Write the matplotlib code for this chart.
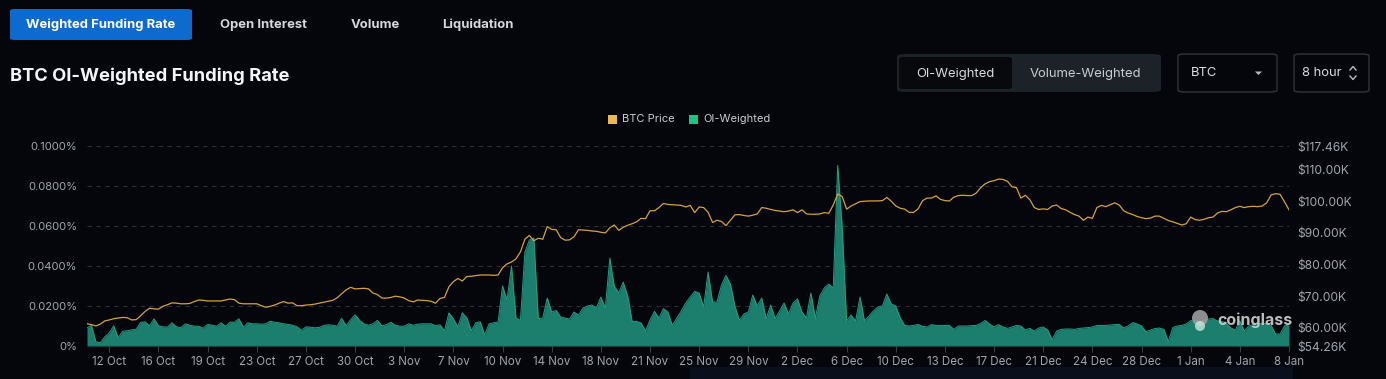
import matplotlib
matplotlib.use("Agg")
import matplotlib.pyplot as plt
from matplotlib.patches import FancyBboxPatch, Rectangle, Polygon, Ellipse
from matplotlib.lines import Line2D

# ---------------- data ----------------
funding_rate = [
    0.0091, 0.0103, 0.0021, 0.0016, 0.0046, 0.0066, 0.0101, 0.0041, 0.0074, 0.0076,
    0.0081, 0.0084, 0.0118, 0.0121, 0.0101, 0.0136, 0.0101, 0.0096, 0.0094, 0.0116,
    0.0096, 0.0091, 0.0111, 0.0104, 0.0099, 0.0099, 0.0089, 0.0108, 0.0104, 0.0099,
    0.0116, 0.0099, 0.0119, 0.0119, 0.0136, 0.0094, 0.0116, 0.0111, 0.0111, 0.0109,
    0.0111, 0.0124, 0.0119, 0.0116, 0.0111, 0.0108, 0.0104, 0.0096, 0.0078, 0.0096,
    0.0094, 0.0091, 0.0093, 0.0103, 0.0106, 0.0104, 0.0099, 0.0139, 0.0101, 0.0131,
    0.0156, 0.0128, 0.0111, 0.0104, 0.0111, 0.0128, 0.0101, 0.0106, 0.0119, 0.0104,
    0.0099, 0.0099, 0.0111, 0.0104, 0.0109, 0.0111, 0.0111, 0.0111, 0.0101, 0.0106,
    0.0076, 0.0166, 0.0136, 0.0096, 0.0166, 0.0141, 0.0076, 0.0116, 0.0121, 0.0056,
    0.0111, 0.0116,
    0.0120, 0.0300, 0.0230, 0.0400, 0.0140, 0.0128, 0.0470, 0.0530, 0.0540, 0.0137,
    0.0140, 0.0240, 0.0170, 0.0178, 0.0145, 0.0140, 0.0135, 0.0170, 0.0155, 0.0190,
    0.0200, 0.0205, 0.0190, 0.0245, 0.0190, 0.0440, 0.0300, 0.0265, 0.0320, 0.0250,
    0.0123, 0.0123, 0.0115, 0.0075, 0.0130, 0.0173, 0.0140, 0.0187, 0.0170, 0.0103,
    0.0140, 0.0175, 0.0215, 0.0245, 0.0273, 0.0265, 0.0195, 0.0370, 0.0220, 0.0220,
    0.0305, 0.0353, 0.0310, 0.0200, 0.0128, 0.0160, 0.0170, 0.0255, 0.0200, 0.0240,
    0.0137, 0.0205, 0.0137, 0.0175, 0.0215, 0.0160, 0.0215, 0.0235, 0.0170, 0.0140,
    0.0265, 0.0140, 0.0250, 0.0290, 0.0310, 0.0290, 0.0903, 0.0600, 0.0125, 0.0155,
    0.0125, 0.0245, 0.0125, 0.0150, 0.0175, 0.0195, 0.0200, 0.0260, 0.0210, 0.0200,
    0.0140,
    0.0103, 0.0100, 0.0103, 0.0108, 0.0098, 0.0095, 0.0107, 0.0103, 0.0103, 0.0103,
    0.0103, 0.0083, 0.0100, 0.0100, 0.0100, 0.0102, 0.0103, 0.0113, 0.0128, 0.0110,
    0.0095, 0.0107, 0.0095, 0.0088, 0.0095, 0.0103, 0.0100, 0.0080, 0.0088, 0.0075,
    0.0090, 0.0095, 0.0080, 0.0032, 0.0075, 0.0083, 0.0085, 0.0085, 0.0083, 0.0088,
    0.0090, 0.0092, 0.0095, 0.0103, 0.0103, 0.0103, 0.0105, 0.0107, 0.0108, 0.0090,
    0.0100, 0.0117, 0.0110, 0.0100, 0.0072, 0.0080, 0.0087, 0.0090, 0.0083, 0.0023,
    0.0093, 0.0100, 0.0103, 0.0110, 0.0127, 0.0125, 0.0123, 0.0128, 0.0135, 0.0137,
    0.0125, 0.0123, 0.0113, 0.0090, 0.0080, 0.0125, 0.0075, 0.0100, 0.0107, 0.0112,
    0.0112, 0.0112, 0.0103, 0.0060, 0.0060, 0.0100, 0.0105,
]

btc_price_k = [
    61.3, 61.0, 60.6, 61.2, 62.2, 62.5, 62.9, 63.1, 63.3, 63.2,
    62.5, 62.6, 63.8, 65.2, 66.2, 66.0, 65.9, 66.8, 67.3, 67.9,
    67.8, 67.6, 67.6, 67.7, 68.3, 68.8, 68.7, 68.5, 68.5, 68.5,
    68.5, 68.8, 69.1, 68.9, 67.8, 67.6, 67.6, 67.6, 67.6, 67.0,
    66.5, 66.8, 67.2, 67.8, 68.3, 67.8, 67.9, 67.0, 67.0, 67.2,
    67.3, 67.5, 67.8, 68.1, 68.4, 68.7, 69.5, 70.8, 72.0, 72.8,
    72.3, 72.4, 72.5, 72.3, 71.0, 70.5, 69.4, 69.4, 69.6, 70.0,
    69.8, 69.4, 68.6, 68.2, 68.8, 68.7, 68.6, 68.4, 67.8, 69.3,
    69.6, 73.0, 74.6, 75.6, 74.8, 76.2, 76.3, 76.5, 76.7, 76.7,
    76.7, 76.6,
    76.7, 79.0, 80.2, 80.8, 81.8, 84.0, 88.0, 89.2, 87.5, 88.3,
    88.0, 92.0, 91.1, 91.0, 88.5, 87.7, 87.8, 88.8, 91.0, 90.9,
    90.8, 90.6, 90.5, 90.2, 90.0, 91.6, 92.5, 90.8, 91.8, 92.4,
    92.9, 93.5, 94.6, 94.5, 97.0, 97.0, 98.0, 99.3, 99.0, 98.9,
    98.8, 98.7, 98.2, 98.7, 96.4, 98.2, 98.0, 96.5, 93.3, 94.0,
    93.6, 92.3, 94.0, 95.7, 95.8, 95.5, 95.3, 95.6, 96.0, 98.0,
    97.8, 97.4, 97.1, 96.9, 96.7, 96.9, 97.3, 96.4, 97.3, 96.0,
    95.9, 95.9, 96.0, 96.4, 96.2, 98.8, 102.3, 101.5, 97.5, 98.5,
    99.2, 99.9, 100.0, 100.1, 100.1, 100.1, 100.2, 101.2, 100.0, 98.5,
    97.8,
    97.5, 96.5, 96.5, 97.6, 100.2, 101.0, 101.0, 101.7, 100.6, 100.2,
    100.1, 101.3, 101.8, 101.9, 101.8, 101.8, 102.6, 104.3, 105.5, 106.2,
    106.5, 107.0, 106.9, 106.3, 104.6, 104.3, 101.0, 101.9, 100.5, 98.0,
    97.4, 97.6, 97.4, 98.5, 98.8, 97.7, 97.3, 96.5, 95.8, 95.3,
    94.0, 95.0, 94.6, 98.0, 98.7, 98.3, 98.9, 99.5, 98.8, 97.0,
    96.3, 95.8, 95.2, 94.8, 94.5, 94.7, 95.3, 95.3, 94.6, 93.9,
    93.5, 93.0, 92.5, 92.9, 95.0, 94.2, 94.0, 94.3, 94.8, 95.0,
    96.3, 96.8, 96.7, 97.3, 98.0, 98.4, 98.0, 98.3, 98.4, 98.3,
    98.5, 99.5, 102.0, 102.4, 102.2, 99.8, 97.3,
]

date_labels = ["12 Oct", "16 Oct", "19 Oct", "23 Oct", "27 Oct", "30 Oct", "3 Nov",
               "7 Nov", "10 Nov", "14 Nov", "18 Nov", "21 Nov", "25 Nov", "29 Nov",
               "2 Dec", "6 Dec", "10 Dec", "13 Dec", "17 Dec", "21 Dec", "24 Dec",
               "28 Dec", "1 Jan", "4 Jan", "8 Jan"]
first_label_index = 5
label_step = 11

left_ticks = [0.0, 0.02, 0.04, 0.06, 0.08, 0.10]
left_tick_labels = ["0%", "0.0200%", "0.0400%", "0.0600%", "0.0800%", "0.1000%"]
right_ticks = [54.26, 60, 70, 80, 90, 100, 110, 117.46]
right_tick_labels = ["$54.26K", "$60.00K", "$70.00K", "$80.00K", "$90.00K",
                     "$100.00K", "$110.00K", "$117.46K"]

tabs = ["Weighted Funding Rate", "Open Interest", "Volume", "Liquidation"]
title = "BTC OI-Weighted Funding Rate"
legend_items = ["BTC Price", "OI-Weighted"]

# ---------------- style ----------------
W, H = 1386, 379
BG = "#04060b"
GREEN_FILL = "#1c7e6c"
GREEN_EDGE = "#21a084"
GOLD = "#d6a238"
GRID = "#2b2e35"
TICK = "#a0a5ad"
FONT = ["Inter", "DejaVu Sans"]
plt.rcParams["font.family"] = FONT


def fx(x):
    return x / W


def fy(y):
    return 1 - y / H


fig = plt.figure(figsize=(W / 100, H / 100), dpi=100, facecolor=BG)

# ---------------- header UI ----------------
fig.patches.append(FancyBboxPatch((fx(10), fy(40)), fx(182), 31 / H,
                                  boxstyle="round,pad=0,rounding_size=0.004",
                                  transform=fig.transFigure, fc="#0d6bcf", ec="none"))
tab_centers = [101, 263, 375, 478]
for name, cx in zip(tabs, tab_centers):
    fig.text(fx(cx), fy(25), name, ha="center", va="center", fontsize=9.4,
             fontweight="bold", color="#ffffff" if cx == 101 else "#d4d7dc")

fig.text(fx(10), fy(76), title, ha="left", va="center", fontsize=13.2,
         fontweight="bold", color="#f2f4f7")

# segmented control
fig.patches.append(FancyBboxPatch((fx(897), fy(92)), fx(264), 38 / H,
                                  boxstyle="round,pad=0,rounding_size=0.006",
                                  transform=fig.transFigure, fc="#1d2128", ec="none"))
fig.patches.append(FancyBboxPatch((fx(899), fy(89)), fx(113), 32 / H,
                                  boxstyle="round,pad=0,rounding_size=0.004",
                                  transform=fig.transFigure, fc="#07090d", ec="none"))
fig.text(fx(955), fy(73.5), "OI-Weighted", ha="center", va="center", fontsize=9.4,
         color="#d8dbe0")
fig.text(fx(1085), fy(73.5), "Volume-Weighted", ha="center", va="center", fontsize=9.4,
         color="#c9ccd2")

# BTC dropdown
fig.patches.append(FancyBboxPatch((fx(1178), fy(92)), fx(99), 38 / H,
                                  boxstyle="round,pad=0,rounding_size=0.005",
                                  transform=fig.transFigure, fc="none", ec="#30343b", lw=1))
fig.text(fx(1191), fy(73.5), "BTC", ha="left", va="center", fontsize=9.4, color="#d8dbe0")
fig.patches.append(Polygon([(fx(1255), fy(71.5)), (fx(1262), fy(71.5)), (fx(1258.5), fy(75))],
                           closed=True, transform=fig.transFigure, fc="#b8bcc3", ec="none"))

# 8 hour dropdown
fig.patches.append(FancyBboxPatch((fx(1294), fy(92)), fx(75), 38 / H,
                                  boxstyle="round,pad=0,rounding_size=0.005",
                                  transform=fig.transFigure, fc="none", ec="#30343b", lw=1))
fig.text(fx(1302), fy(73.5), "8 hour", ha="left", va="center", fontsize=9.4, color="#d8dbe0")
fig.lines.append(Line2D([fx(1350), fx(1353), fx(1356)], [fy(70), fy(66.5), fy(70)],
                        transform=fig.transFigure, color="#b8bcc3", lw=1))
fig.lines.append(Line2D([fx(1350), fx(1353), fx(1356)], [fy(76), fy(79.5), fy(76)],
                        transform=fig.transFigure, color="#b8bcc3", lw=1))

# legend
fig.patches.append(Rectangle((fx(608), fy(124)), 9 / W, 9 / H, transform=fig.transFigure,
                             fc="#e9b84a", ec="none"))
fig.text(fx(622), fy(119.5), legend_items[0], ha="left", va="center", fontsize=8,
         color="#c9ccd2")
fig.patches.append(Rectangle((fx(689), fy(124)), 9 / W, 9 / H, transform=fig.transFigure,
                             fc="#16c784", ec="none"))
fig.text(fx(703), fy(119.5), legend_items[1], ha="left", va="center", fontsize=8,
         color="#c9ccd2")

# bottom band (page element)
fig.patches.append(Rectangle((fx(690), 0), fx(603), 12 / H, transform=fig.transFigure,
                             fc="#0a0f1c", ec="none"))

# ---------------- chart ----------------
x0, x1, ytop, ybot = 87, 1289, 146, 346
ax = fig.add_axes([fx(x0), fy(ybot), fx(x1 - x0), (ybot - ytop) / H])
ax.set_facecolor("none")
idx = list(range(len(funding_rate)))
ax.fill_between(idx, 0, funding_rate, color=GREEN_FILL, lw=0, zorder=2)
ax.plot(idx, funding_rate, color=GREEN_EDGE, lw=0.7, zorder=3)
ax.set_xlim(0, len(funding_rate) - 1)
ax.set_ylim(0, 0.1)
ax.set_yticks(left_ticks)
ax.set_yticklabels(left_tick_labels)
for t in left_ticks[1:]:
    ax.axhline(t, color=GRID, lw=0.8, ls=(0, (4, 4)), zorder=1)
ax.axhline(0, color="#3a3d44", lw=0.8, zorder=4)
tick_pos = [first_label_index + label_step * k for k in range(len(date_labels))]
ax.set_xticks(tick_pos)
ax.set_xticklabels(date_labels)
ax.tick_params(axis="x", colors="#3a3d44", labelcolor=TICK, labelsize=8.3, length=4,
               width=0.8, pad=3)
ax.tick_params(axis="y", length=0, labelcolor=TICK, labelsize=8.1, pad=7)
for s in ax.spines.values():
    s.set_visible(False)

ax2 = ax.twinx()
ax2.plot(idx, btc_price_k, color=GOLD, lw=0.9, zorder=5)
ax2.set_ylim(54.26, 117.46)
ax2.set_yticks(right_ticks)
ax2.set_yticklabels(right_tick_labels)
ax2.tick_params(axis="y", length=0, labelcolor=TICK, labelsize=8.7, pad=6)
for s in ax2.spines.values():
    s.set_visible(False)

# watermark
fig.patches.append(Ellipse((fx(1200), fy(318)), 16 / W, 16 / H, transform=fig.transFigure,
                           fc="#9d9d9d", ec="none", alpha=0.9, zorder=10))
fig.patches.append(Ellipse((fx(1200), fy(326)), 10 / W, 10 / H, transform=fig.transFigure,
                           fc="#c8e8df", ec="none", alpha=0.8, zorder=10))
fig.text(fx(1217), fy(320), "coinglass", ha="left", va="center", fontsize=11.5,
         fontweight="bold", color="#cfcfcf", alpha=0.9, zorder=11)

fig.savefig("out.png", dpi=100, facecolor=BG)
